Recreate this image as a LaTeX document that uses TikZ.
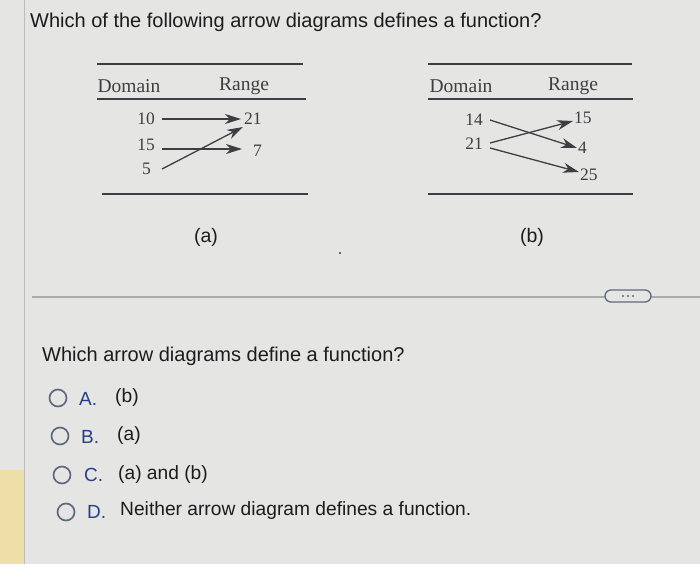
\documentclass[tikz,border=0pt]{standalone}
\usepackage{fontspec}
\setmainfont{Liberation Sans}
\newfontfamily\serifd{Liberation Serif}
\usetikzlibrary{arrows.meta,calc}
\definecolor{bg}{RGB}{229,229,227}
\definecolor{ink}{RGB}{28,28,30}
\definecolor{dink}{RGB}{62,62,66}
\definecolor{optblue}{RGB}{40,62,140}
\definecolor{ring}{RGB}{95,105,125}
\definecolor{sep}{RGB}{170,170,170}
\definecolor{yel}{RGB}{238,222,168}
\tikzset{
  qtext/.style={inner sep=0pt, text=ink, font=\fontsize{20}{24}\selectfont},
  dtext/.style={inner sep=0pt, text=dink, font=\serifd\fontsize{17.5}{20}\selectfont},
  htext/.style={inner sep=0pt, text=dink, font=\serifd\fontsize{19.5}{22}\selectfont},
  rule/.style={draw=dink, line width=1.4pt},
  maparrow/.style={draw=dink, line width=1.3pt, -{Stealth[length=16pt,width=10pt,inset=5pt]}},
  radio/.style={circle, draw=ring, line width=1.7pt, minimum size=17pt, inner sep=0pt},
  letter/.style={inner sep=0pt, text=optblue, font=\fontsize{19}{22}\selectfont},
  answer/.style={inner sep=0pt, text=ink, font=\fontsize{19.2}{22}\selectfont},
}
\begin{document}
\begin{tikzpicture}[x=1pt,y=-1pt]
\fill[bg] (0,0) rectangle (700,564);
\useasboundingbox (0,0) rectangle (700,564);
\fill[yel] (0,470) rectangle (24,564);
\draw[sep!70!bg, line width=0.8pt] (24,0) -- (24,564);

\node[qtext, anchor=west] (title) at (30,22) {Which of the following arrow diagrams defines a function?};

% diagram (a)
\draw[rule] (97,64) -- (303,64);
\node[htext] (doma) at (129,86) {Domain};
\node[htext] (rana) at (244,86) {Range};
\draw[rule] (97,99) -- (306,99);
\node[dtext, anchor=east] (a10) at (155,119) {10};
\node[dtext, anchor=east] (a15) at (155,145) {15};
\node[dtext, anchor=east] (a5) at (151,169) {5};
\node[dtext, anchor=west] (a21) at (244,119) {21};
\node[dtext, anchor=west] (a7) at (253,151) {7};
\draw[maparrow] ($(a10.east)+(7,0)$) -- ($(a21.west)+(-3,0)$);
\draw[maparrow] ($(a15.east)+(7,4)$) -- ($(a7.west)+(-11,-2)$);
\draw[maparrow] ($(a5.east)+(11,0)$) -- ($(a21.west)+(-1,8)$);
\draw[rule] (102,194) -- (308,194);
\node[qtext, font=\fontsize{19.5}{22}\selectfont] (la) at (206,237) {(a)};

% diagram (b)
\draw[rule] (428,64) -- (632,64);
\node[htext] (domb) at (461,86) {Domain};
\node[htext] (ranb) at (573,86) {Range};
\draw[rule] (428,99) -- (633,99);
\node[dtext, anchor=east] (b14) at (483,120) {14};
\node[dtext, anchor=east] (b21) at (483,144) {21};
\node[dtext, anchor=west] (b15) at (574,118) {15};
\node[dtext, anchor=west] (b4) at (578,148) {4};
\node[dtext, anchor=west] (b25) at (580,175) {25};
\draw[maparrow] ($(b14.east)+(7,0)$) -- ($(b4.west)+(-1,0)$);
\draw[maparrow] ($(b21.east)+(7,-1)$) -- ($(b15.west)+(-1,3)$);
\draw[maparrow] ($(b21.east)+(7,4)$) -- ($(b25.west)+(-1,-3)$);
\draw[rule] (428,194) -- (633,194);
\node[qtext, font=\fontsize{19.5}{22}\selectfont] (lb) at (532,237) {(b)};

\fill[dink] (340,253) circle (1.2pt);

% separator and more button
\draw[sep, line width=1.2pt] (32,297) -- (700,297);
\node[draw=ring, fill=bg, line width=1.3pt, rounded corners=6pt, minimum width=46pt, minimum height=12pt, inner sep=0pt] (more) at (628,296) {};
\foreach \dx in {-5,0,5} \fill[ring] ($(more.center)+(\dx,0)$) circle (1.1pt);

% question
\node[qtext, anchor=west] (q) at (42,356) {Which arrow diagrams define a function?};
\node[radio] (ra) at (58,398) {};
\node[letter, anchor=west] (la2) at (79,399) {A.};
\node[answer, anchor=west] (aa) at (115,398) {(b)};
\node[radio] (rb) at (60,436) {};
\node[letter, anchor=west] (lb2) at (81,437) {B.};
\node[answer, anchor=west] (ab) at (117,436) {(a)};
\node[radio] (rc) at (62,475) {};
\node[letter, anchor=west] (lc2) at (84,475) {C.};
\node[answer, anchor=west] (ac) at (118,475) {(a) and (b)};
\node[radio] (rd) at (66,512) {};
\node[letter, anchor=west] (ld2) at (87,512) {D.};
\node[answer, anchor=west] (ad) at (120,511) {Neither arrow diagram defines a function.};
\end{tikzpicture}
\end{document}
